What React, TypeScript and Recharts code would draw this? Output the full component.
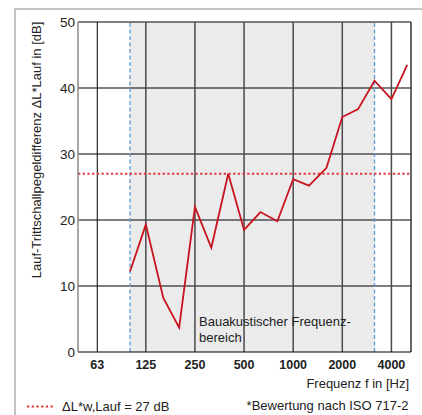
import React from "react";
import {
  ComposedChart,
  Line,
  XAxis,
  YAxis,
  ReferenceLine,
  ReferenceArea,
} from "recharts";

const frequencies = [100, 125, 160, 200, 250, 315, 400, 500, 630, 800, 1000, 1250, 1600, 2000, 2500, 3150, 4000, 5000];
const levelDifference = [12.2, 19.3, 8.2, 3.7, 22.0, 15.8, 27.0, 18.5, 21.2, 19.8, 26.2, 25.2, 27.9, 35.6, 36.8, 41.1, 38.3, 43.5];
const xTicks = [63, 125, 250, 500, 1000, 2000, 4000];
const yTicks = [0, 10, 20, 30, 40, 50];
const ratingValue = 27;
const rangeStart = 100;
const rangeEnd = 3150;

const data = frequencies.map((f, i) => ({ f, v: levelDifference[i] }));

const FONT = "'Liberation Sans', Arial, Helvetica, sans-serif";
const TXT = "#222";

const XTick = (props: any) => {
  const { x, y, payload } = props;
  return (
    <text x={x} y={y} dy="0.71em" textAnchor="middle" fontFamily={FONT} fontSize={12.5} fontWeight="bold" fill={TXT}>
      {payload.value}
    </text>
  );
};

const YTick = (props: any) => {
  const { x, y, payload } = props;
  return (
    <text x={x} y={y} dy="0.36em" textAnchor="end" fontFamily={FONT} fontSize={13.5} fill={TXT}>
      {payload.value}
    </text>
  );
};

export default function App() {
  return (
    <div style={{ position: "absolute", left: 0, top: 0, width: 422, height: 415, background: "#fff" }}>
      <ComposedChart
        width={422}
        height={415}
        data={data}
        margin={{ top: 22, right: 11, bottom: 33, left: 0 }}
      >
        <XAxis
          dataKey="f"
          type="number"
          scale="log"
          domain={[48, 5273]}
          allowDataOverflow
          ticks={xTicks}
          tick={<XTick />}
          tickLine={false}
          tickSize={0}
          tickMargin={8}
          height={30}
          axisLine={{ stroke: "#000", strokeWidth: 1 }}
        />
        <YAxis
          type="number"
          domain={[0, 50]}
          ticks={yTicks}
          width={78}
          tick={<YTick />}
          tickLine={false}
          tickSize={0}
          tickMargin={3}
          axisLine={{ stroke: "#8a8a8a", strokeWidth: 1.5 }}
        />
        <ReferenceArea
          x1={rangeStart}
          x2={rangeEnd}
          y1={0}
          y2={50}
          fill="#ebebeb"
          fillOpacity={1}
          stroke="none"
        />
        {yTicks.filter((t) => t > 0).map((t) => (
          <ReferenceLine key={"h" + t} y={t} stroke="#000" strokeWidth={1} />
        ))}
        {xTicks.map((t) => (
          <ReferenceLine
            key={"v" + t}
            x={t}
            stroke={t === 63 ? "#000" : "#4a4a4a"}
            strokeWidth={t === 63 ? 1 : 1.5}
          />
        ))}
        <ReferenceLine x={5273} stroke="#333" strokeWidth={1.5} />
        <ReferenceLine x={rangeStart} stroke="#5b9bd5" strokeWidth={1.3} strokeDasharray="4 2.5" />
        <ReferenceLine x={rangeEnd} stroke="#5b9bd5" strokeWidth={1.3} strokeDasharray="4 2.5" />
        <ReferenceLine y={ratingValue} stroke="#e2383a" strokeWidth={2} strokeDasharray="2.3 2.4" />
        <Line
          dataKey="v"
          type="linear"
          stroke="#c8141e"
          strokeWidth={1.8}
          dot={false}
          isAnimationActive={false}
        />
      </ComposedChart>
      <svg
        width={422}
        height={415}
        style={{ position: "absolute", left: 0, top: 0, pointerEvents: "none" }}
      >
        <line x1={15} y1={9} x2={422} y2={9} stroke="#c4c4c4" strokeWidth={2} />
        <line x1={15} y1={8} x2={15} y2={415} stroke="#c4c4c4" strokeWidth={2} />
        <text
          x={36}
          y={150}
          transform="rotate(-90, 36, 150)"
          textAnchor="middle"
          dominantBaseline="central"
          fontFamily={FONT}
          fontSize={13}
          fill={TXT}
        >
          Lauf-Trittschallpegeldifferenz ΔL*Lauf in [dB]
        </text>
        <text x={199} y={326} fontFamily={FONT} fontSize={13} fill={TXT}>
          Bauakustischer Frequenz-
        </text>
        <text x={199} y={341.5} fontFamily={FONT} fontSize={13} fill={TXT}>
          bereich
        </text>
        <text x={409} y={387.5} textAnchor="end" fontFamily={FONT} fontSize={13} fill={TXT}>
          Frequenz f in [Hz]
        </text>
        <line x1={27} y1={406.5} x2={54} y2={406.5} stroke="#e2383a" strokeWidth={2} strokeDasharray="2.3 2.4" />
        <text x={62} y={410.5} fontFamily={FONT} fontSize={13} fill={TXT}>
          ΔL*w,Lauf = 27 dB
        </text>
        <text x={408.5} y={410} textAnchor="end" fontFamily={FONT} fontSize={13} fill={TXT}>
          *Bewertung nach ISO 717-2
        </text>
      </svg>
    </div>
  );
}
